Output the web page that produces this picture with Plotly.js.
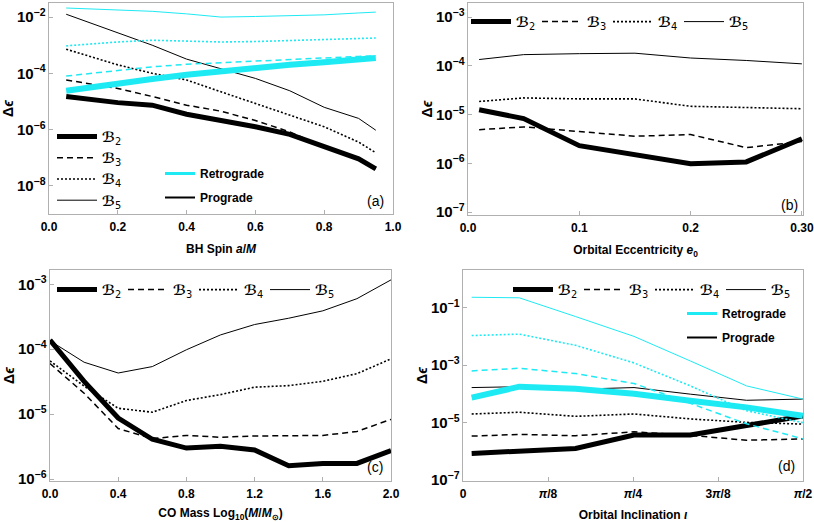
<!DOCTYPE html>
<html>
<head>
<meta charset="utf-8">
<script src="https://cdn.plot.ly/plotly-3.0.1.min.js"></script>
<style>
  body { margin: 0; background: #fff; }
  #plot { width: 814px; height: 522px; }
</style>
</head>
<body>
<div id="plot"></div>
<script>
// ---- data (delta epsilon, log axes) ----

// (a) BH spin
let spin = [0.05, 0.2, 0.3, 0.4, 0.5, 0.6, 0.7, 0.8, 0.9, 0.95];
let spinProB2 = [1.5e-5, 9.1e-6, 7.4e-6, 3.5e-6, 2.1e-6, 1.26e-6, 6.8e-7, 2.4e-7, 9.1e-8, 4.0e-8];
let spinProB3 = [5.8e-5, 2.9e-5, 1.5e-5, 7.4e-6, 4.5e-6, 2.1e-6, 8.3e-7, 2.4e-7, 9.1e-8, 4.0e-8];
let spinProB4 = [7.2e-4, 2.0e-4, 1.0e-4, 5.8e-5, 2.2e-5, 8.5e-6, 3.2e-6, 1.26e-6, 3.6e-7, 1.5e-7];
let spinProB5 = [1.26e-2, 2.7e-3, 1.0e-3, 3.2e-4, 1.5e-4, 6.6e-5, 2.4e-5, 6.2e-6, 2.5e-6, 9.5e-7];
let spinRetB2 = [2.4e-5, 4.5e-5, 6.3e-5, 8.9e-5, 1.2e-4, 1.6e-4, 2.0e-4, 2.5e-4, 3.2e-4, 3.5e-4];
let spinRetB3 = [8.0e-5, 1.3e-4, 1.7e-4, 2.1e-4, 2.4e-4, 2.8e-4, 3.2e-4, 3.5e-4, 4.0e-4, 4.2e-4];
let spinRetB4 = [9.5e-4, 1.3e-3, 1.5e-3, 1.4e-3, 1.3e-3, 1.35e-3, 1.45e-3, 1.55e-3, 1.7e-3, 1.8e-3];
let spinRetB5 = [2.1e-2, 1.85e-2, 1.6e-2, 1.3e-2, 1.0e-2, 1.05e-2, 1.1e-2, 1.2e-2, 1.4e-2, 1.5e-2];

// (b) orbital eccentricity
let ecc = [0.01, 0.05, 0.1, 0.15, 0.2, 0.25, 0.3];
let eccB2 = [1.26e-5, 8.3e-6, 2.3e-6, 1.5e-6, 9.8e-7, 1.07e-6, 3.2e-6];
let eccB3 = [4.9e-6, 5.6e-6, 4.5e-6, 3.6e-6, 3.9e-6, 2.1e-6, 2.8e-6];
let eccB4 = [1.86e-5, 2.2e-5, 2.1e-5, 2.1e-5, 1.48e-5, 1.38e-5, 1.32e-5];
let eccB5 = [1.35e-4, 1.7e-4, 1.78e-4, 1.82e-4, 1.45e-4, 1.29e-4, 1.1e-4];

// (c) CO mass, log10(M/Msun)
let mass = [0, 0.2, 0.4, 0.6, 0.8, 1.0, 1.2, 1.4, 1.6, 1.8, 2.0];
let massB2 = [1.38e-4, 3.2e-5, 8.7e-6, 4.1e-6, 3.0e-6, 3.2e-6, 2.8e-6, 1.6e-6, 1.74e-6, 1.74e-6, 2.75e-6];
let massB3 = [6.0e-5, 2.1e-5, 6.0e-6, 4.2e-6, 4.7e-6, 4.4e-6, 4.6e-6, 4.7e-6, 4.7e-6, 5.4e-6, 8.3e-6];
let massB4 = [6.6e-5, 2.7e-5, 1.23e-5, 1.07e-5, 1.62e-5, 2.0e-5, 2.6e-5, 2.75e-5, 3.2e-5, 4.2e-5, 7.1e-5];
let massB5 = [1.35e-4, 6.3e-5, 4.3e-5, 5.4e-5, 9.8e-5, 1.66e-4, 2.4e-4, 3.0e-4, 3.9e-4, 6.0e-4, 1.17e-3];

// (d) orbital inclination (rad)
let incl = [0.04, 0.26, 0.52, 0.79, 1.05, 1.31, 1.57];
let inclProB2 = [8.5e-7, 1.05e-6, 1.26e-6, 3.7e-6, 3.7e-6, 7.9e-6, 1.7e-5];
let inclProB3 = [3.4e-6, 3.9e-6, 3.5e-6, 4.8e-6, 3.6e-6, 2.45e-6, 2.7e-6];
let inclProB4 = [2.0e-5, 2.3e-5, 1.66e-5, 2.0e-5, 1.35e-5, 1.02e-5, 8.9e-6];
let inclProB5 = [1.66e-4, 1.78e-4, 1.45e-4, 1.66e-4, 9.8e-5, 6.0e-5, 6.6e-5];
let inclRetB2 = [7.4e-5, 1.78e-4, 1.5e-4, 1.02e-4, 5.8e-5, 3.4e-5, 1.74e-5];
let inclRetB3 = [6.3e-4, 7.8e-4, 5.1e-4, 2.3e-4, 4.7e-5, 9.1e-6, 2.75e-6];
let inclRetB4 = [1.07e-2, 1.2e-2, 4.9e-3, 1.2e-3, 1.9e-4, 2.6e-5, 1.0e-5];
let inclRetB5 = [0.23, 0.22, 0.049, 1.0e-2, 1.4e-3, 1.9e-4, 6.6e-5];

let inclTicks = [0, 0.3927, 0.7854, 1.1781, 1.5708];
let inclTickText = ['0', '<i>π</i>/8', '<i>π</i>/4', '3<i>π</i>/8', '<i>π</i>/2'];

let bNames = ['<b><i>ℬ</i></b><sub>2</sub>', '<b><i>ℬ</i></b><sub>3</sub>',
              '<b><i>ℬ</i></b><sub>4</sub>', '<b><i>ℬ</i></b><sub>5</sub>'];

// ---- styles ----
let cyan = '#1eeaf4';
let styles = {
  b2: {width: 5, dash: 'solid'},
  b3: {width: 1.5, dash: '6px,4px'},
  b4: {width: 1.6, dash: '2px,2px'},
  b5: {width: 1, dash: 'solid'}
};

function line(x, y, ax, style, color, opts) {
  let s = styles[style];
  let tr = {
    x: x, y: y, xaxis: 'x' + ax, yaxis: 'y' + ax,
    type: 'scatter', mode: 'lines',
    line: {color: color, width: s.width, dash: s.dash},
    showlegend: false, hoverinfo: 'skip'
  };
  if (style === 'b2' && color !== '#000') tr.line.width = 6;
  return Object.assign(tr, opts || {});
}
function leg(name, legend, rank) {
  return {showlegend: true, name: name, legend: legend, legendrank: rank, legendgroup: legend + rank};
}
// retrograde / prograde key entries (no data, legend only)
function key(name, color, width, ax, legend, rank) {
  return {x: [null], y: [null], xaxis: 'x' + ax, yaxis: 'y' + ax, type: 'scatter', mode: 'lines',
          name: '<b>' + name + '</b>', line: {color: color, width: width},
          legend: legend, legendrank: rank, legendgroup: legend + rank};
}

let traces = [
  // (a) prograde (black) then retrograde (cyan)
  line(spin, spinProB5, '', 'b5', '#000', leg(bNames[3], 'legend', 4)),
  line(spin, spinProB4, '', 'b4', '#000', leg(bNames[2], 'legend', 3)),
  line(spin, spinProB3, '', 'b3', '#000', leg(bNames[1], 'legend', 2)),
  line(spin, spinProB2, '', 'b2', '#000', leg(bNames[0], 'legend', 1)),
  line(spin, spinRetB5, '', 'b5', cyan),
  line(spin, spinRetB4, '', 'b4', cyan),
  line(spin, spinRetB3, '', 'b3', cyan),
  line(spin, spinRetB2, '', 'b2', cyan),
  key('Retrograde', cyan, 3, '', 'legend2', 1),
  key('Prograde', '#000', 2, '', 'legend2', 2),

  // (b)
  line(ecc, eccB5, '2', 'b5', '#000', leg(bNames[3], 'legend3', 4)),
  line(ecc, eccB4, '2', 'b4', '#000', leg(bNames[2], 'legend3', 3)),
  line(ecc, eccB3, '2', 'b3', '#000', leg(bNames[1], 'legend3', 2)),
  line(ecc, eccB2, '2', 'b2', '#000', leg(bNames[0], 'legend3', 1)),

  // (c)
  line(mass, massB5, '3', 'b5', '#000', leg(bNames[3], 'legend4', 4)),
  line(mass, massB4, '3', 'b4', '#000', leg(bNames[2], 'legend4', 3)),
  line(mass, massB3, '3', 'b3', '#000', leg(bNames[1], 'legend4', 2)),
  line(mass, massB2, '3', 'b2', '#000', leg(bNames[0], 'legend4', 1)),

  // (d)
  line(incl, inclProB5, '4', 'b5', '#000', leg(bNames[3], 'legend5', 4)),
  line(incl, inclProB4, '4', 'b4', '#000', leg(bNames[2], 'legend5', 3)),
  line(incl, inclProB3, '4', 'b3', '#000', leg(bNames[1], 'legend5', 2)),
  line(incl, inclProB2, '4', 'b2', '#000', leg(bNames[0], 'legend5', 1)),
  line(incl, inclRetB5, '4', 'b5', cyan),
  line(incl, inclRetB4, '4', 'b4', cyan),
  line(incl, inclRetB3, '4', 'b3', cyan),
  line(incl, inclRetB2, '4', 'b2', cyan),
  key('Retrograde', cyan, 3, '4', 'legend6', 1),
  key('Prograde', '#000', 2, '4', 'legend6', 2)
];

// ---- layout ----
let W = 814, H = 522;
let tickFont = {family: 'Liberation Sans, Arial, sans-serif', size: 12, color: '#000', weight: 'bold'};
let titleFont = {family: 'Liberation Sans, Arial, sans-serif', size: 12, color: '#000', weight: 'bold'};
let frame = {
  showline: true, mirror: true, linecolor: '#b0b0b0', linewidth: 1,
  ticks: 'inside', ticklen: 4, tickcolor: '#b0b0b0',
  showgrid: false, zeroline: false, tickfont: tickFont, automargin: false
};

function xax(px0, px1, range, title, extra) {
  return Object.assign({}, frame, {
    domain: [px0 / W, px1 / W], range: range, ticklabelstandoff: 2,
    title: {text: title, font: titleFont, standoff: 11}
  }, extra || {});
}
function yax(top, bottom, range, anchor, extra) {
  return Object.assign({}, frame, {
    type: 'log', domain: [1 - bottom / H, 1 - top / H], range: range, anchor: anchor,
    exponentformat: 'power', dtick: 1,
    title: {text: 'Δ<i>ϵ</i>', font: {family: 'Liberation Sans, Arial, sans-serif', size: 14, color: '#000', weight: 'bold'}, standoff: 0}
  }, extra || {});
}

let legFont = {family: 'DejaVu Sans, sans-serif', size: 14, color: '#000'};
let keyFont = {family: 'Liberation Sans, Arial, sans-serif', size: 12, color: '#000'};
function legendBox(x, y, horizontal, font, extra) {
  return Object.assign({
    xref: 'paper', yref: 'paper', x: x / W, y: 1 - y / H, xanchor: 'left', yanchor: 'top',
    orientation: horizontal ? 'h' : 'v', bgcolor: 'rgba(0,0,0,0)', borderwidth: 0,
    font: font, traceorder: 'normal'
  }, extra || {});
}
let hLeg = {entrywidth: 16, entrywidthmode: 'pixels', itemwidth: 40};
let keyLeg = {traceorder: 'grouped', tracegroupgap: 5};

function tag(ax, x, y, txt) {
  return {xref: 'x' + ax + ' domain', yref: 'y' + ax + ' domain', x: x, y: y,
          text: txt, showarrow: false, xanchor: 'center', yanchor: 'middle',
          font: {family: 'Liberation Sans, Arial, sans-serif', size: 14, color: '#000'}};
}

let layout = {
  width: W, height: H,
  margin: {l: 0, r: 0, t: 0, b: 0},
  paper_bgcolor: '#fff', plot_bgcolor: '#fff',
  xaxis: xax(49, 393, [0, 1], 'BH Spin <i>a</i>/<i>M</i>', {anchor: 'y', dtick: 0.2, tickformat: '.1f'}),
  yaxis: yax(3, 214, [-9, -1.5], 'x', {dtick: 2}),
  xaxis2: xax(468, 803, [0, 0.301], 'Orbital Eccentricity <i>e</i><sub>0</sub>',
    {anchor: 'y2', tickvals: [0, 0.1, 0.2, 0.3], ticktext: ['0.0', '0.1', '0.2', '0.30']}),
  yaxis2: yax(3, 215, [-7.06, -2.71], 'x2'),
  xaxis3: xax(50, 391, [0, 2], 'CO Mass Log<sub>10</sub>(<i>M</i>/<i>M</i><sub>⊙</sub>)',
    {anchor: 'y3', dtick: 0.4, tickformat: '.1f'}),
  yaxis3: yax(270, 481, [-6.03, -2.78], 'x3'),
  xaxis4: xax(463, 803, [0, 1.5708], 'Orbital Inclination <i>ι</i>',
    {anchor: 'y4', tickvals: inclTicks, ticktext: inclTickText}),
  yaxis4: yax(270, 481, [-7.03, 0.31], 'x4', {dtick: 2, tick0: 1}),
  legend: legendBox(52, 121, false, legFont, {itemwidth: 40, tracegroupgap: 0}),
  legend2: legendBox(160, 159, false, keyFont, keyLeg),
  legend3: legendBox(466, 6, true, legFont, hLeg),
  legend4: legendBox(52, 274, true, legFont, hLeg),
  legend5: legendBox(508, 274, true, legFont, hLeg),
  legend6: legendBox(682, 299, false, keyFont, keyLeg),
  annotations: [
    tag('', 0.948, 0.06, '(a)'),
    tag('2', 0.961, 0.047, '(b)'),
    tag('3', 0.953, 0.066, '(c)'),
    tag('4', 0.95, 0.07, '(d)')
  ]
};

Plotly.newPlot('plot', traces, layout, {displayModeBar: false, staticPlot: true});
</script>
</body>
</html>
